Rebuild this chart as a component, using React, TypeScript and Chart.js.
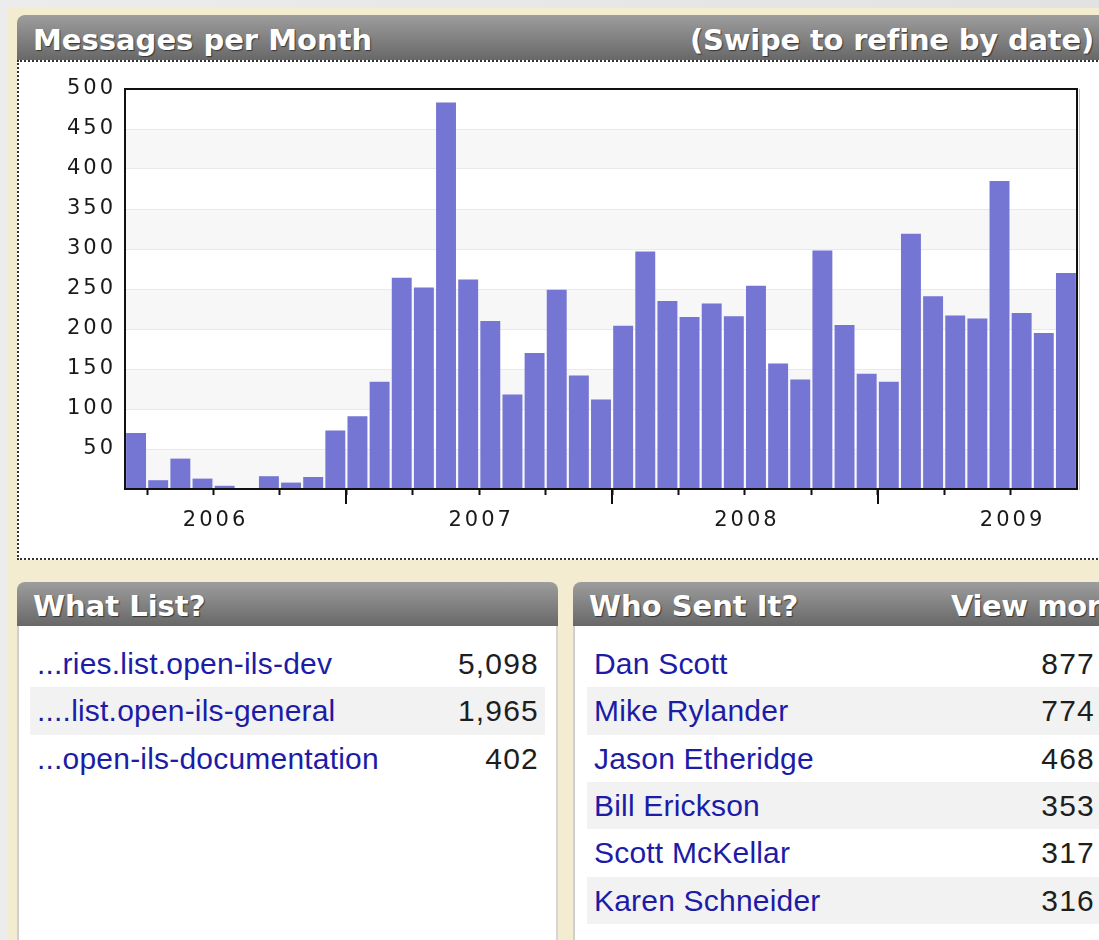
import React, { useEffect, useRef } from 'react';
import { Chart, registerables } from 'chart.js';

Chart.register(...registerables);

// ---- data ----
const months = [
  '2006-03', '2006-04', '2006-05', '2006-06', '2006-07', '2006-08', '2006-09', '2006-10', '2006-11', '2006-12',
  '2007-01', '2007-02', '2007-03', '2007-04', '2007-05', '2007-06', '2007-07', '2007-08', '2007-09', '2007-10', '2007-11', '2007-12',
  '2008-01', '2008-02', '2008-03', '2008-04', '2008-05', '2008-06', '2008-07', '2008-08', '2008-09', '2008-10', '2008-11', '2008-12',
  '2009-01', '2009-02', '2009-03', '2009-04', '2009-05', '2009-06', '2009-07', '2009-08', '2009-09',
];
const messages = [
  70, 11, 38, 13, 4, 1, 16, 8, 15, 73,
  91, 134, 264, 252, 483, 262, 210, 118, 170, 249, 142, 112,
  204, 297, 235, 215, 232, 216, 254, 157, 137, 298, 205, 144,
  134, 319, 241, 217, 213, 385, 220, 195, 270,
];
const yMax = 500;
const yStep = 50;

const listNames = ['...ries.list.open-ils-dev', '....list.open-ils-general', '...open-ils-documentation'];
const listCounts = [5098, 1965, 402];
const senderNames = ['Dan Scott', 'Mike Rylander', 'Jason Etheridge', 'Bill Erickson', 'Scott McKellar', 'Karen Schneider'];
const senderCounts = [877, 774, 468, 353, 317, 316];

const AXIS_FONT = '"DejaVu Sans", Verdana, sans-serif';
const HEAD_FONT = '"DejaVu Sans", Verdana, sans-serif';
const ROW_FONT = '"Liberation Sans", Arial, sans-serif';

const monthNum = (m: string) => parseInt(m.slice(5), 10);

const decorPlugin = {
  id: 'decor',
  beforeDraw(chart: any) {
    const { ctx, chartArea: a, scales } = chart;
    const y = scales.y;
    ctx.save();
    ctx.fillStyle = '#f7f7f7';
    for (let v = 0; v < yMax; v += yStep * 2) {
      const top = y.getPixelForValue(v + yStep);
      const bot = y.getPixelForValue(v);
      ctx.fillRect(a.left, top, a.right - a.left, bot - top);
    }
    ctx.restore();
    ctx.letterSpacing = '3px';
  },
  afterDatasetsDraw(chart: any) {
    const { ctx, chartArea: a, scales } = chart;
    const x = scales.x;
    ctx.save();
    ctx.letterSpacing = '0px';
    // frame
    ctx.strokeStyle = '#111';
    ctx.lineWidth = 2;
    ctx.strokeRect(a.left, a.top, a.right - a.left, a.bottom - a.top);
    ctx.strokeStyle = 'rgba(0,0,0,0.25)';
    ctx.lineWidth = 1;
    ctx.beginPath();
    ctx.moveTo(a.right + 2.5, a.top);
    ctx.lineTo(a.right + 2.5, a.bottom + 1);
    ctx.stroke();
    // major (year) ticks
    ctx.strokeStyle = '#111';
    ctx.lineWidth = 2;
    months.forEach((m, i) => {
      if (monthNum(m) === 1) {
        const px = Math.round(x.getPixelForValue(i));
        ctx.beginPath();
        ctx.moveTo(px, a.bottom);
        ctx.lineTo(px, a.bottom + 15);
        ctx.stroke();
      }
    });
    ctx.restore();
  },
  afterDraw(chart: any) {
    chart.ctx.letterSpacing = '0px';
  },
};

export default function App() {
  const ref = useRef<HTMLCanvasElement>(null);

  useEffect(() => {
    const chart = new Chart(ref.current as HTMLCanvasElement, {
      type: 'bar',
      data: {
        datasets: [
          {
            data: messages.map((v, i) => ({ x: i + 0.5, y: v })) as any,
            backgroundColor: '#7575d4',
            borderWidth: 0,
            barPercentage: 0.9,
            categoryPercentage: 1,
          },
        ],
      },
      options: {
        animation: false,
        responsive: false,
        layout: { padding: { top: 29, right: 22, left: 0, bottom: 0 } },
        plugins: { legend: { display: false }, tooltip: { enabled: false } },
        scales: {
          x: {
            type: 'linear',
            min: 0,
            max: months.length,
            offset: false,
            afterBuildTicks: (s: any) => {
              s.ticks = months
                .map((m, i) => ({ value: i, m }))
                .filter((t) => (monthNum(t.m) - 1) % 3 === 0)
                .map((t) => ({ value: t.value }));
            },
            afterFit: (s: any) => {
              s.height = 71;
            },
            grid: { drawOnChartArea: false, drawTicks: true, tickLength: 6, tickWidth: 2, tickColor: '#111', offset: false },
            border: { display: false },
            ticks: {
              autoSkip: false,
              maxRotation: 0,
              padding: 13,
              labelOffset: 2,
              color: '#1a1a1a',
              font: { family: AXIS_FONT, size: 21 },
              callback: (v: any) => {
                const m = months[Math.round(v)];
                return m && monthNum(m) === 7 ? m.slice(0, 4) : '';
              },
            },
          } as any,
          y: {
            min: 0,
            max: yMax,
            afterFit: (s: any) => {
              s.width = 125;
            },
            grid: { color: '#e9e9e9', drawTicks: false },
            border: { display: false },
            ticks: {
              stepSize: yStep,
              padding: 9,
              color: '#1a1a1a',
              font: { family: AXIS_FONT, size: 21 },
              callback: (v: any) => (v === 0 ? '' : String(v)),
            },
          },
        },
      },
      plugins: [decorPlugin],
    });
    return () => chart.destroy();
  }, []);

  const headerText: React.CSSProperties = {
    position: 'absolute',
    fontFamily: HEAD_FONT,
    fontWeight: 'bold',
    fontSize: 29,
    lineHeight: '34px',
    color: '#fff',
    whiteSpace: 'nowrap',
    textShadow: '1px 1px 1px rgba(0,0,0,0.55)',
  };
  const headerBar = (left: number, top: number, width: number): React.CSSProperties => ({
    position: 'absolute',
    left,
    top,
    width,
    height: 44,
    borderRadius: '8px 8px 0 0',
    background: 'linear-gradient(#9d9d9d, #686868)',
  });
  const rowStyle = (i: number, left: number, width: number): React.CSSProperties => ({
    position: 'absolute',
    left,
    top: 14 + i * 47.3,
    width,
    height: 47.3,
    background: i % 2 === 1 ? '#f2f2f2' : 'transparent',
    fontFamily: ROW_FONT,
    fontSize: 30,
    lineHeight: '47.3px',
  });
  const nameStyle: React.CSSProperties = { position: 'absolute', left: 7, top: 0, color: '#1c1ca6', whiteSpace: 'nowrap', letterSpacing: '0.2px' };
  const numStyle: React.CSSProperties = { position: 'absolute', right: 6, top: 0, color: '#1e1e1e', whiteSpace: 'nowrap', letterSpacing: '1.2px' };

  return (
    <div style={{ position: 'absolute', left: 0, top: 0, width: 1099, height: 940, overflow: 'hidden', background: 'linear-gradient(90deg, #ececec, #e2e2e2)' }}>
      <div style={{ position: 'absolute', left: 8, top: 8, width: 1100, height: 940, background: '#f3ecd0' }} />

      {/* Messages per Month panel */}
      <div style={{ ...headerBar(17, 15, 1100), height: 45 }}>
        <span style={{ ...headerText, left: 16, top: 8 }}>Messages per Month</span>
      </div>
      <span style={{ ...headerText, right: 5, top: 23, letterSpacing: '-0.2px' }}>(Swipe to refine by date)</span>
      <div style={{ position: 'absolute', left: 17, top: 60, width: 1100, height: 500, boxSizing: 'border-box', border: '2px dotted #333', background: '#fff' }} />
      <div style={{ position: 'absolute', left: 0, top: 60, width: 1099, height: 500 }}>
        <canvas ref={ref} width={1099} height={500} style={{ display: 'block' }} />
      </div>

      {/* What List? panel */}
      <div style={headerBar(17, 582, 541)}>
        <span style={{ ...headerText, left: 16, top: 7 }}>What List?</span>
      </div>
      <div style={{ position: 'absolute', left: 17, top: 626, width: 541, height: 330, boxSizing: 'border-box', background: '#fff', borderLeft: '2px solid #cfcfcf', borderRight: '2px solid #d6d6d6' }}>
        {listNames.map((n, i) => (
          <div key={n} style={rowStyle(i, 11, 515)}>
            <span style={nameStyle}>{n}</span>
            <span style={numStyle}>{listCounts[i].toLocaleString('en-US')}</span>
          </div>
        ))}
      </div>

      {/* Who Sent It? panel */}
      <div style={headerBar(573, 582, 540)}>
        <span style={{ ...headerText, left: 16, top: 7 }}>Who Sent It?</span>
        <span style={{ ...headerText, left: 378, top: 7, letterSpacing: '-0.4px' }}>View more</span>
      </div>
      <div style={{ position: 'absolute', left: 573, top: 626, width: 540, height: 330, boxSizing: 'border-box', background: '#fff', borderLeft: '2px solid #cfcfcf' }}>
        {senderNames.map((n, i) => (
          <div key={n} style={rowStyle(i, 12, 514)}>
            <span style={nameStyle}>{n}</span>
            <span style={numStyle}>{senderCounts[i]}</span>
          </div>
        ))}
      </div>
    </div>
  );
}
